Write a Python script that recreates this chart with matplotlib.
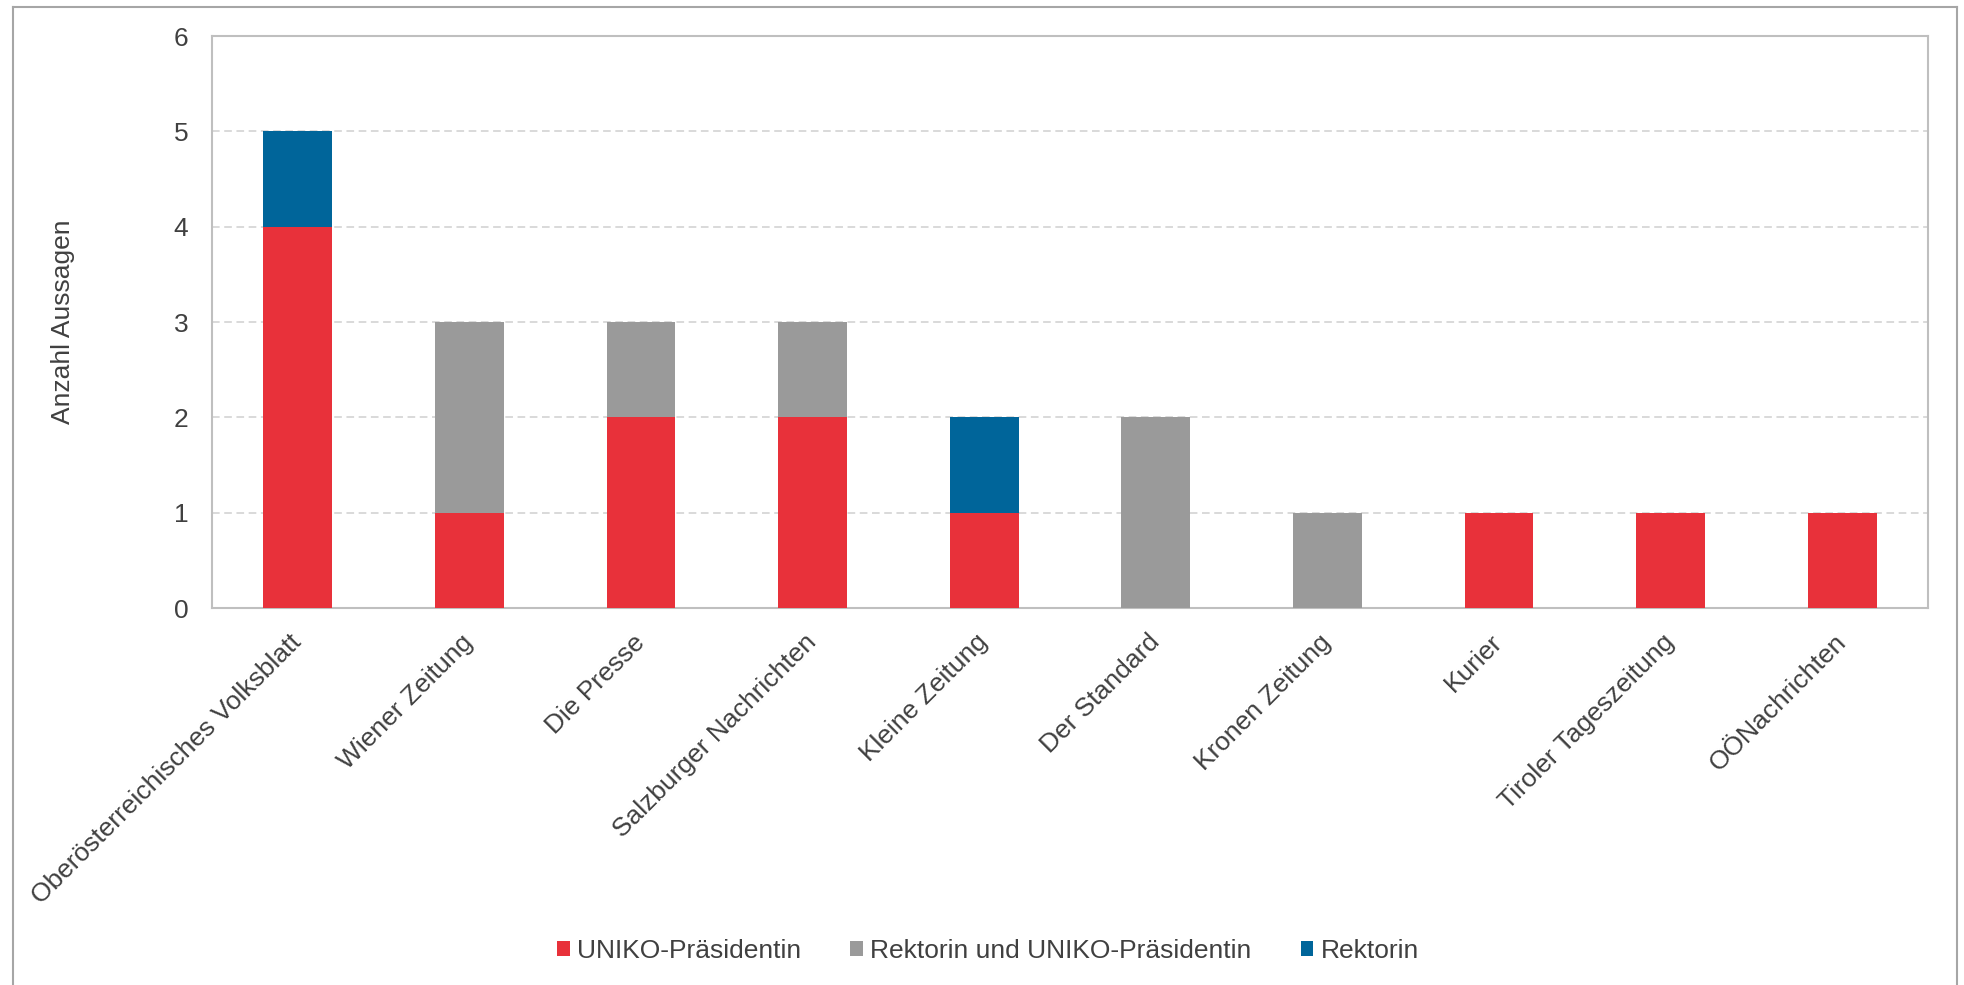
import numpy as np
import matplotlib
matplotlib.use("Agg")
from matplotlib import pyplot as plt
from matplotlib.lines import Line2D

# data
zeitungen = ["Oberösterreichisches Volksblatt", "Wiener Zeitung", "Die Presse",
             "Salzburger Nachrichten", "Kleine Zeitung", "Der Standard",
             "Kronen Zeitung", "Kurier", "Tiroler Tageszeitung", "OÖNachrichten"]
uniko = [4, 1, 2, 2, 1, 0, 0, 1, 1, 1]
rektorin_uniko = [0, 2, 1, 1, 0, 2, 1, 0, 0, 0]
rektorin = [1, 0, 0, 0, 1, 0, 0, 0, 0, 0]

series_names = ["UNIKO-Präsidentin", "Rektorin und UNIKO-Präsidentin", "Rektorin"]
colors = ["#E8313A", "#9A9A9A", "#00659A"]
text_col = "#404040"

plt.rcParams['font.family'] = ['Liberation Sans', 'DejaVu Sans']
plt.rcParams['font.size'] = 19

fig = plt.figure(figsize=(19.64, 9.85), dpi=100)
ax = fig.add_axes([212 / 1964, 1 - 608 / 985, 1716 / 1964, 572 / 985])

x = np.arange(len(zeitungen))
bottom = np.zeros(len(zeitungen))
for vals, name, c in zip([uniko, rektorin_uniko, rektorin], series_names, colors):
    ax.bar(x, vals, 0.4, bottom=bottom, color=c, label=name, zorder=3)
    bottom += np.array(vals)

ax.set_xlim(-0.5, len(zeitungen) - 0.5)
ax.set_ylim(0, 6)
ax.set_yticks(range(7))
ax.yaxis.grid(True, color="#D0D0D0", linestyle=(0, (5, 3)), linewidth=1.1, zorder=0)
for s in ax.spines.values():
    s.set_color("#BFBFBF")
    s.set_linewidth(1.5)

ax.tick_params(axis='y', length=0, pad=17, colors=text_col)
ax.tick_params(axis='x', length=0, pad=22, colors=text_col)
ax.set_xticks(x)
ax.set_xticklabels(zeitungen, rotation=45, ha='right', va='center',
                   rotation_mode='anchor')

ax.set_ylabel("Anzahl Aussagen", color=text_col)
ax.yaxis.set_label_coords(-0.080, 0.5)

# legend at the bottom
fig.legend(loc='center', bbox_to_anchor=(0.503, 1 - 951 / 985), ncol=3,
           frameon=False, handlelength=0.49, handleheight=0.49,
           handletextpad=0.27, columnspacing=1.86, labelcolor=text_col)

# outer frame (open at the bottom)
fc = "#A6A6A6"
fl, fr, ft = 13 / 1964, 1957 / 1964, 1 - 7 / 985
fig.add_artist(Line2D([fl, fl], [0, ft], color=fc, lw=1.5, transform=fig.transFigure))
fig.add_artist(Line2D([fl, fr], [ft, ft], color=fc, lw=1.5, transform=fig.transFigure))
fig.add_artist(Line2D([fr, fr], [0, ft], color=fc, lw=1.5, transform=fig.transFigure))

fig.savefig("out.png", dpi=100)
